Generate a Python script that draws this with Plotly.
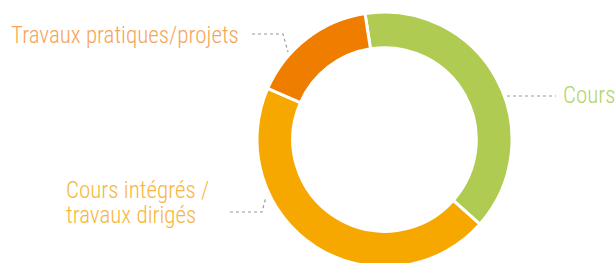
import plotly.graph_objects as go

labels = ["Cours", "Cours intégrés / travaux dirigés", "Travaux pratiques/projets"]
values = [39, 45, 16]
slice_colors = ["#afcb52", "#f6a700", "#ee7d00"]
label_lines = [["Cours"], ["Cours intégrés /", "travaux dirigés"], ["Travaux pratiques/projets"]]
label_colors = ["#b5d36a", "#f8b640", "#f5a55a"]

W, H = 615, 280
FONT = "Roboto Condensed"

def px(x):
    return x / W

def py(y):
    return 1 - y / H

fig = go.Figure()
fig.add_trace(go.Pie(
    labels=labels,
    values=values,
    sort=False,
    direction="clockwise",
    rotation=-8.8,
    hole=0.72,
    marker=dict(colors=slice_colors, line=dict(color="white", width=3)),
    textinfo="none",
    hoverinfo="label+percent",
    showlegend=False,
    domain=dict(x=[px(257), px(512)], y=[py(267), py(12)]),
))

# leader lines (dotted)
leaders = [
    [(507, 96), (556, 96)],
    [(252, 34), (283, 34), (288, 52)],
    [(230, 212), (262, 212), (266, 197)],
]
for pts in leaders:
    path = "M " + " L ".join(f"{px(x)},{py(y)}" for x, y in pts)
    fig.add_shape(type="path", path=path, xref="paper", yref="paper",
                  line=dict(color="#9a9a9a", width=1.2, dash="dot"))

# label anchor (left x, first line y), line spacing 25px
anchors = [(561, 95), (64, 190), (9, 35)]
for (ax, ay), lines, c in zip(anchors, label_lines, label_colors):
    for k, t in enumerate(lines):
        fig.add_annotation(text=t, xref="paper", yref="paper", showarrow=False,
                           x=px(ax), y=py(ay + 25 * k), xanchor="left", yanchor="middle",
                           align="left",
                           font=dict(family=FONT, size=23, color=c, weight=300))

fig.update_layout(
    width=W, height=H,
    margin=dict(l=0, r=0, t=0, b=0),
    paper_bgcolor="white", plot_bgcolor="white",
)
fig.write_html("out.html", config={"displayModeBar": False},
               post_script="document.body.style.margin='0';document.body.style.overflow='hidden';document.documentElement.style.overflow='hidden';")
